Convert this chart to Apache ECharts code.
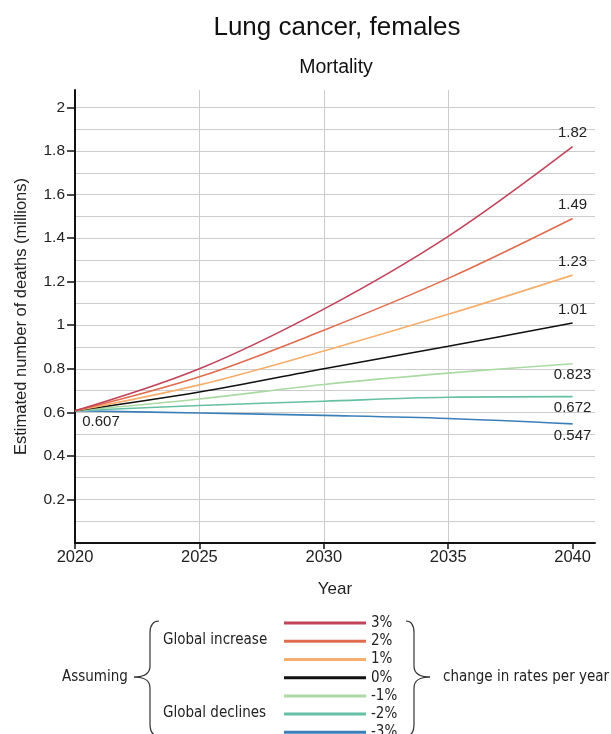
<!DOCTYPE html>
<html>
<head>
<meta charset="utf-8">
<script src="https://cdn.jsdelivr.net/npm/echarts@6/dist/echarts.min.js"></script>
<style>html,body{margin:0;padding:0;background:#fff}#c{width:611px;height:734px}</style>
</head>
<body>
<div id="c"></div>
<script>
var years = [2020, 2025, 2030, 2035, 2040];
var seriesNames = ['3%', '2%', '1%', '0%', '-1%', '-2%', '-3%'];
var s3p = [0.607, 0.80, 1.074, 1.408, 1.82];
var s2p = [0.607, 0.763, 0.977, 1.215, 1.49];
var s1p = [0.607, 0.726, 0.882, 1.05, 1.23];
var s0 = [0.607, 0.693, 0.80, 0.903, 1.01];
var s1m = [0.607, 0.661, 0.728, 0.78, 0.823];
var s2m = [0.607, 0.631, 0.651, 0.669, 0.672];
var s3m = [0.607, 0.597, 0.586, 0.572, 0.547];
var yTickLabels = [0.2, 0.4, 0.6, 0.8, 1, 1.2, 1.4, 1.6, 1.8, 2];
var xTickLabels = [2020, 2025, 2030, 2035, 2040];

var allValues = [s3p, s2p, s1p, s0, s1m, s2m, s3m];
var colors = ['#c1445b', '#e06c4f', '#f5ae6b', '#111111', '#abd9a4', '#65c0a3', '#3b7fb9'];
var endPos = ['top', 'top', 'top', 'top', 'bottom', 'bottom', 'bottom'];
var startLabelSeries = 6;
var FONT = 'Liberation Sans';
var LFONT = '"DejaVu Sans Condensed", "DejaVu Sans"';

var series = allValues.map(function (vals, si) {
  var data = vals.map(function (v, i) {
    var item = { value: [years[i], v] };
    if (i === vals.length - 1) {
      item.label = { show: true, position: endPos[si], distance: endPos[si] === 'top' ? 6 : 4 };
    }
    if (si === startLabelSeries && i === 0) {
      item.label = { show: true, position: 'bottom', distance: 4, offset: [26, 0] };
    }
    return item;
  });
  return {
    name: seriesNames[si],
    type: 'line',
    xAxisIndex: 0,
    yAxisIndex: 0,
    data: data,
    smooth: 0.35,
    symbol: 'circle',
    symbolSize: 0,
    showSymbol: true,
    lineStyle: { color: colors[si], width: 1.6 },
    itemStyle: { color: colors[si] },
    label: {
      show: false,
      color: '#222',
      fontFamily: FONT,
      fontSize: 15,
      formatter: function (p) { return String(p.value[1]); }
    },
    emphasis: { disabled: true },
    z: 10 - si
  };
});

function brace(x0, xm, xp, yt, ym, yb) {
  var st = { stroke: '#333', lineWidth: 1.2, fill: null };
  return [
    { type: 'bezierCurve', shape: { x1: x0, y1: yt, cpx1: xm, cpy1: yt, x2: xm, y2: yt + 12 }, style: st },
    { type: 'line', shape: { x1: xm, y1: yt + 12, x2: xm, y2: ym - 11 }, style: st },
    { type: 'bezierCurve', shape: { x1: xm, y1: ym - 11, cpx1: xm, cpy1: ym, x2: xp, y2: ym }, style: st },
    { type: 'bezierCurve', shape: { x1: xp, y1: ym, cpx1: xm, cpy1: ym, x2: xm, y2: ym + 11 }, style: st },
    { type: 'line', shape: { x1: xm, y1: ym + 11, x2: xm, y2: yb - 12 }, style: st },
    { type: 'bezierCurve', shape: { x1: xm, y1: yb - 12, cpx1: xm, cpy1: yb, x2: x0, y2: yb }, style: st }
  ];
}

var LF = '15px ' + LFONT;
var graphics = [
  { type: 'text', x: 62, y: 677, style: { text: 'Assuming', font: LF, fill: '#222', verticalAlign: 'middle' } },
  { type: 'text', x: 163, y: 640, style: { text: 'Global increase', font: LF, fill: '#222', verticalAlign: 'middle' } },
  { type: 'text', x: 163, y: 713, style: { text: 'Global declines', font: LF, fill: '#222', verticalAlign: 'middle' } },
  { type: 'text', x: 443, y: 677, style: { text: 'change in rates per year', font: LF, fill: '#222', verticalAlign: 'middle' } }
].concat(brace(159, 150, 134, 621, 677, 736)).concat(brace(406, 414, 430, 621, 677, 736));

var chart = echarts.init(document.getElementById('c'), null, { renderer: 'canvas' });
chart.setOption({
  animation: false,
  backgroundColor: '#fff',
  title: [
    { text: 'Lung cancer, females', left: 332, textAlign: 'center', top: 10,
      textStyle: { fontFamily: FONT, fontSize: 26, fontWeight: 'normal', color: '#111' } },
    { text: 'Mortality', left: 331, textAlign: 'center', top: 53,
      textStyle: { fontFamily: FONT, fontSize: 19.5, fontWeight: 'normal', color: '#111' } }
  ],
  grid: { left: 75, right: 16, top: 90, bottom: 191, containLabel: false },
  legend: {
    orient: 'vertical',
    left: 284,
    top: 614,
    padding: 0,
    height: 200,
    icon: 'rect',
    itemWidth: 82,
    itemHeight: 3,
    itemGap: 0,
    selectedMode: false,
    data: seriesNames,
    textStyle: { fontFamily: LFONT, fontSize: 15, lineHeight: 18.2, color: '#222' }
  },
  xAxis: {
    type: 'value',
    min: 2020,
    max: 2040.9,
    interval: 5,
    name: 'Year',
    nameLocation: 'middle',
    nameGap: 38,
    nameTextStyle: { fontFamily: FONT, fontSize: 17, color: '#222' },
    axisLine: { show: true, lineStyle: { color: '#111', width: 2 } },
    axisTick: { show: true, length: 6, customValues: xTickLabels, lineStyle: { color: '#111', width: 1.5 } },
    axisLabel: {
      fontFamily: FONT, fontSize: 16.5, color: '#222', margin: 6,
      customValues: xTickLabels,
      formatter: function (v) { return String(v); }
    },
    splitLine: { show: true, showMinLine: false, showMaxLine: false, lineStyle: { color: '#cccccc', width: 1 } }
  },
  yAxis: [
    {
      type: 'value',
      position: 'left',
      min: 0,
      max: 2.08,
      interval: 0.1,
      name: 'Estimated number of deaths (millions)',
      nameLocation: 'middle',
      nameGap: 45,
      nameTextStyle: { fontFamily: FONT, fontSize: 16.5, color: '#222' },
      axisLine: { show: true, onZero: false, lineStyle: { color: '#111', width: 2 } },
      axisTick: { show: false },
      axisLabel: { show: false },
      splitLine: { show: true, showMinLine: false, showMaxLine: false, lineStyle: { color: '#cccccc', width: 1 } }
    },
    {
      type: 'value',
      position: 'left',
      offset: 0,
      min: 0,
      max: 2.08,
      interval: 0.2,
      axisLine: { show: false, onZero: false },
      axisTick: { show: true, length: 8, customValues: yTickLabels, lineStyle: { color: '#111', width: 1.5 } },
      axisLabel: {
        fontFamily: FONT, fontSize: 15.5, color: '#222', margin: 10,
        customValues: yTickLabels,
        formatter: function (v) { return String(v); }
      },
      splitLine: { show: false }
    }
  ],
  graphic: graphics,
  series: series
});
</script>
</body>
</html>
